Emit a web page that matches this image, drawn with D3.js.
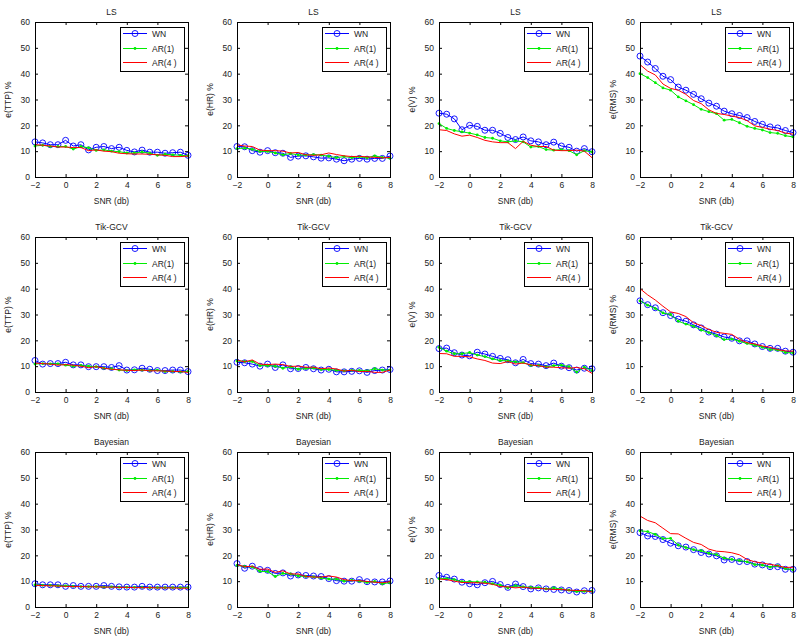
<!DOCTYPE html>
<html><head><meta charset="utf-8">
<script src="https://cdn.jsdelivr.net/npm/d3@7"></script>
<style>body{margin:0;background:#fff}svg text{font-family:"Liberation Sans",Arial,sans-serif;fill:#222}</style>
</head><body><svg id="c" width="800" height="639"></svg>
<script>
const snr = [-2,-1.5,-1,-0.5,0,0.5,1,1.5,2,2.5,3,3.5,4,4.5,5,5.5,6,6.5,7,7.5,8];
const methods = ["LS","Tik-GCV","Bayesian"];
const metrics = ["e(TTP) %","e(HR) %","e(V) %","e(RMS) %"];
const seriesNames = ["WN","AR(1)","AR(4 )"];
const xTicks = [-2,0,2,4,6,8];
const yTicks = [0,10,20,30,40,50,60];

// LS
const ls_ttp_wn  = [13.6,13.2,12.5,12.5,14.2,12,12.5,10.5,11.5,11.8,11,11.5,10.3,9.7,10.4,9.6,9.6,9.2,9.4,9.6,8.4];
const ls_ttp_ar1 = [12,12.3,11.8,11.8,11.8,10.8,11.8,11.3,10.3,10.5,10,9.8,9.3,9.3,9.7,9.2,8.4,8.8,8.6,8.4,8.2];
const ls_ttp_ar4 = [12.5,12.3,12,11.6,11.6,11.4,11.4,10.2,10.5,10,9.8,9.2,9,8.9,8.9,8.8,8.6,8.4,7.9,7.9,8.1];
const ls_hr_wn   = [11.8,11.7,10.2,9.6,10.2,9.4,9.2,7.6,8.1,8.2,7.8,7.3,7.4,6.9,6.3,6.9,7.2,6.9,7.2,7.2,8.1];
const ls_hr_ar1  = [11,11.2,10.7,9.9,9.9,9.3,8.6,9.1,8.5,8.5,8.7,8.5,8,7.5,7.9,7.5,7.8,7.4,8.2,7.6,7.3];
const ls_hr_ar4  = [12.4,12,11.8,10.4,10.2,10.2,10,9.3,9.5,8.6,8.4,8.6,9.3,8.7,8.2,7.9,8,7.8,7.6,7.4,7.6];
const ls_v_wn    = [24.7,24.3,22.5,18.3,20,19.6,18.1,18.1,16.9,15.3,14.5,15.5,14,13.6,12.5,13.5,12,11.5,10,11,9.8];
const ls_v_ar1   = [20.7,18.8,18,17.5,17,16.3,15.3,15,14,13.6,14,13.6,11.6,11.8,10.6,10.4,10.6,10.2,8.6,10.2,9.7];
const ls_v_ar4   = [18.3,18,16.7,15.8,16.2,15.3,14.2,13.6,13.3,13.3,11,13.8,12.3,11.8,11.8,10.4,10.2,10.2,10.4,10,7.5];
const ls_rms_wn  = [46.8,44.5,42,39,37.7,34.8,33.6,32,30.3,28.6,27.4,25.5,24.5,23.8,23,21.5,20.4,19.4,19,18,17.2];
const ls_rms_ar1 = [40,38.5,36.5,34.5,33.6,31,29.5,28,26.2,25.3,24.5,22,22.3,21,19.6,18.8,18.2,17.2,16.9,16,15.5];
const ls_rms_ar4 = [43.5,41,39.5,36,34.3,33.6,32,29.6,28.4,26,24.6,24.2,23.6,23,21.8,19.8,19.2,18.5,18,17,16.6];
// Tik-GCV
const tik_ttp_wn  = [12.2,10.8,11,11,11.5,10.5,10.5,9.8,9.8,9.8,9.5,10.2,8.5,8.6,9.2,8.8,8.3,8.3,8.5,8.5,7.9];
const tik_ttp_ar1 = [10.8,11,10.9,10.9,10.4,10,10.3,10,9.8,9.2,9,8.5,8.3,8.6,8.5,8.3,8.5,7.9,8,7.8,8];
const tik_ttp_ar4 = [11.2,11,10.8,10.4,10.6,10.4,10,9.4,9.8,9.2,8.8,8.6,8.4,8.3,8.5,8.2,8.2,8.1,8,7.9,7.6];
const tik_hr_wn   = [11.5,11.3,10.8,10,10.8,9.5,10.5,9,9.1,9.5,9,8.5,8.8,7.8,7.8,8,8.2,7.6,8.3,8.5,8.7];
const tik_hr_ar1  = [12,11.8,11.8,10.2,10.2,10,9.2,9.7,8.8,9.1,9.3,8.7,8.7,8.4,8.2,8.4,8.4,8.2,9,8.5,8.5];
const tik_hr_ar4  = [12.4,11.7,12.4,10.8,10.6,10.8,10.6,9.9,10,9.6,9.6,9,9.3,8.9,8.1,8.4,7.9,8,7.6,7.6,8.5];
const tik_v_wn    = [16.8,17,15.2,14.3,14,15.4,14.7,13.8,13,12.5,11.3,12.6,11,10.8,10.2,11.2,10,9.4,8.5,9.2,9];
const tik_v_ar1   = [17.3,15.8,14.8,14.8,15.3,14.3,13.7,12.8,12.2,12,11.7,11.4,10.3,10.3,9.7,10.2,10.4,9.8,7.7,9.6,8.3];
const tik_v_ar4   = [14.9,14.8,13.8,13.8,13.6,12.8,12.2,11.2,11,11.8,10.8,11.2,10.5,10.2,9.6,9.6,9.4,9.2,9.5,9,7.2];
const tik_rms_wn  = [35.3,33.8,32.6,30.7,29.6,28.2,27.4,26,24.8,23.2,22.4,21.3,20.8,19.8,19.8,18.6,17.6,16.9,16.9,15.8,15.4];
const tik_rms_ar1 = [35.3,33.6,32.3,30.6,30,27.4,26.3,25.5,24,23,21.8,20.3,20.5,19.6,18.8,18.1,17.3,16.4,16.3,15.3,15.1];
const tik_rms_ar4 = [40,37.6,35.6,33.2,31,30.4,29.2,26.8,25.7,24.2,23.1,22.7,22.3,20.4,19.1,18.6,17.8,17.3,16.4,15.9,15.8];
// Bayesian
const bay_ttp_wn  = [9,8.6,8.6,8.6,8,8.3,8,8,8,8.3,8,7.8,7.7,7.7,8,7.7,7.7,7.7,7.7,7.7,7.7];
const bay_ttp_ar1 = [8.6,8.4,8.4,8.2,8.2,8,7.9,7.9,7.9,7.7,7.8,7.6,7.6,7.6,7.6,7.5,7.5,7.5,7.5,7.5,7.5];
const bay_ttp_ar4 = [8.4,8.3,8.2,8.1,8,7.9,7.9,7.8,7.8,7.7,7.7,7.6,7.6,7.5,7.5,7.5,7.4,7.4,7.4,7.3,7.3];
const bay_hr_wn   = [16.8,15,15.8,14.5,14.2,13,13.2,12,12.4,12.2,12,11.8,11,10.2,10,10,10.6,9.8,9.7,9.7,10.1];
const bay_hr_ar1  = [16.1,15.7,15.5,13.8,13.7,11.8,13,12.8,12,11.8,11.7,11.2,10.8,10.8,10,10.4,10,9.5,9.9,9,9.4];
const bay_hr_ar4  = [16.4,15.6,15.8,14.6,14.7,13.4,14,12.8,12.8,11.8,11.6,11.6,12,11.6,10.6,10.2,10.2,9.9,9.6,9.4,9.8];
const bay_v_wn    = [12.2,11.5,10.8,9.6,9,8.6,9.4,9.9,8.7,7.6,8.9,7.9,7,7.4,7,6.8,6.6,6.4,5.8,6.3,6.4];
const bay_v_ar1   = [11,11,10.6,9.8,9.8,9.7,9.6,9,8.5,7.4,8.3,7.8,7.6,7.5,7,7.4,6.9,6.5,6,6.1,6.1];
const bay_v_ar4   = [10.8,10.6,10,9.5,9.4,9.4,9.2,8.8,7.9,7.8,7.4,7.7,7.3,7.2,7,6.8,6.8,6.5,6.4,6.3,5.9];
const bay_rms_wn  = [28.8,27.5,27.3,26.1,24.7,23.7,23.2,22.2,21.1,20.5,19.8,18.2,18.4,17.6,17.6,16.6,16.3,15.6,15.6,14.6,14.6];
const bay_rms_ar1 = [29.5,29.2,28.1,26.5,26.6,24,23,22.2,21.8,20.8,20.3,18.9,18.4,18,17.5,16.4,16.2,15.4,16,14.9,14.3];
const bay_rms_ar4 = [35.2,33.5,32.6,30.5,28.4,28.3,26.6,25,24.2,22.4,21.6,21.4,21,20.2,18.4,17.5,17,16.5,16,15.3,15.4];

const grid = [
  [[ls_ttp_wn,ls_ttp_ar1,ls_ttp_ar4],[ls_hr_wn,ls_hr_ar1,ls_hr_ar4],[ls_v_wn,ls_v_ar1,ls_v_ar4],[ls_rms_wn,ls_rms_ar1,ls_rms_ar4]],
  [[tik_ttp_wn,tik_ttp_ar1,tik_ttp_ar4],[tik_hr_wn,tik_hr_ar1,tik_hr_ar4],[tik_v_wn,tik_v_ar1,tik_v_ar4],[tik_rms_wn,tik_rms_ar1,tik_rms_ar4]],
  [[bay_ttp_wn,bay_ttp_ar1,bay_ttp_ar4],[bay_hr_wn,bay_hr_ar1,bay_hr_ar4],[bay_v_wn,bay_v_ar1,bay_v_ar4],[bay_rms_wn,bay_rms_ar1,bay_rms_ar4]]
];
const colors = ["#0000ff","#00ee00","#ff0000"];

const svg = d3.select("#c");
const W = 153, H = 155, FS = 8.5;

methods.forEach((m, r) => {
  metrics.forEach((lab, c) => {
    const left = Math.round(35 + 201.8 * c), top = 22 + 215 * r;
    const g = svg.append("g").attr("transform", `translate(${left},${top})`);
    const x = d3.scaleLinear().domain([-2, 8]).range([0, W]);
    const y = d3.scaleLinear().domain([0, 60]).range([H, 0]);

    const ax = (gen, tr) => {
      const a = g.append("g").attr("transform", tr).call(gen);
      a.select(".domain").remove();
      a.selectAll("line").attr("stroke", "#000");
      a.selectAll("text").attr("font-size", FS).attr("fill", "#222");
      return a;
    };
    ax(d3.axisBottom(x).tickValues(xTicks).tickSize(-3).tickPadding(5).tickFormat(d3.format("d")), `translate(0,${H})`);
    ax(d3.axisTop(x).tickValues(xTicks).tickSize(-3).tickFormat(""), `translate(0,0)`);
    ax(d3.axisLeft(y).tickValues(yTicks).tickSize(-3).tickPadding(5), `translate(0,0)`);
    ax(d3.axisRight(y).tickValues(yTicks).tickSize(-3).tickFormat(""), `translate(${W},0)`);

    const data = grid[r][c];
    data.forEach((vals, s) => {
      const pts = snr.map((v, i) => [v, vals[i]]);
      g.append("path").datum(pts)
        .attr("fill", "none").attr("stroke", colors[s]).attr("stroke-width", 1)
        .attr("d", d3.line().x(d => x(d[0])).y(d => y(d[1])));
      if (s === 0) {
        g.selectAll(null).data(pts).enter().append("circle")
          .attr("cx", d => x(d[0])).attr("cy", d => y(d[1])).attr("r", 3)
          .attr("fill", "none").attr("stroke", colors[0]).attr("stroke-width", 0.9);
      } else if (s === 1) {
        g.selectAll(null).data(pts).enter().append("circle")
          .attr("cx", d => x(d[0])).attr("cy", d => y(d[1])).attr("r", 1.4)
          .attr("fill", colors[1]);
      }
    });

    g.append("rect").attr("x", 0.5).attr("y", 0.5).attr("width", W).attr("height", H)
      .attr("fill", "none").attr("stroke", "#000").attr("stroke-width", 1);

    g.append("text").attr("x", W / 2).attr("y", -7).attr("text-anchor", "middle").attr("font-size", FS).text(m);
    g.append("text").attr("x", W / 2).attr("y", H + 27).attr("text-anchor", "middle").attr("font-size", FS).text("SNR (db)");
    g.append("text").attr("transform", `translate(-24,${H / 2}) rotate(-90)`).attr("text-anchor", "middle")
      .attr("font-size", FS).text(lab);

    const lw = 64, lh = 44;
    const lg = g.append("g").attr("transform", `translate(${W - 4 - lw},5)`);
    lg.append("rect").attr("x", 0.5).attr("y", 0.5).attr("width", lw).attr("height", lh).attr("fill", "#fff").attr("stroke", "#000").attr("stroke-width", 1);
    [6, 21, 35].forEach((yy0, s) => {
      const yy = yy0 + 0.5;
      lg.append("line").attr("x1", 3).attr("x2", 27).attr("y1", yy).attr("y2", yy).attr("stroke", colors[s]).attr("stroke-width", 1);
      if (s === 0) lg.append("circle").attr("cx", 15).attr("cy", yy).attr("r", 3).attr("fill", "none").attr("stroke", colors[0]).attr("stroke-width", 0.9);
      if (s === 1) lg.append("circle").attr("cx", 15).attr("cy", yy).attr("r", 1.4).attr("fill", colors[1]);
      lg.append("text").attr("x", 32).attr("y", yy + 3).attr("font-size", FS).text(seriesNames[s]);
    });
  });
});
</script></body></html>
